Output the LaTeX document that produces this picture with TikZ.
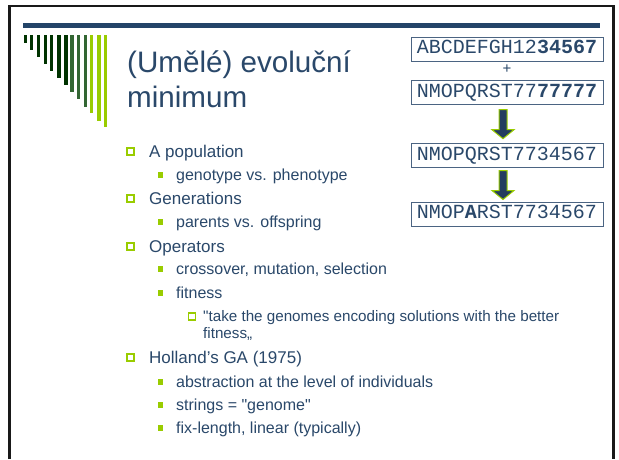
\documentclass[tikz,border=0pt]{standalone}
\usepackage{fontspec}
\setmainfont{Liberation Sans}
\newfontfamily\codefont{Liberation Mono}
\usetikzlibrary{positioning,calc}
\definecolor{txtblue}{RGB}{42,72,106}
\definecolor{barblue}{RGB}{35,68,104}
\definecolor{dkgreen}{RGB}{0,51,0}
\definecolor{mdgreen}{RGB}{51,102,51}
\definecolor{limegreen}{RGB}{153,204,0}
\definecolor{boxline}{RGB}{75,100,130}
\definecolor{arrowblue}{RGB}{35,60,95}
\tikzset{
    lvA/.style={anchor=base west, inner sep=0, text=txtblue, font=\fontsize{17}{20}\selectfont},
    lvB/.style={anchor=base west, inner sep=0, text=txtblue, font=\fontsize{16}{19}\selectfont},
    lvC/.style={anchor=base west, inner sep=0, text=txtblue, font=\fontsize{15.2}{17}\selectfont},
    bulA/.style={draw=limegreen, line width=1.8pt, minimum size=7.5pt, inner sep=0, xshift=-18.5pt, yshift=5.5pt},
    bulB/.style={fill=limegreen, minimum size=5.5pt, inner sep=0, xshift=-15.5pt, yshift=5pt},
    bulC/.style={draw=limegreen, line width=1.8pt, minimum size=7pt, inner sep=0, xshift=-11pt, yshift=4.5pt},
    genebox/.style={draw=boxline, line width=0.8pt, fill=white, minimum width=192pt, minimum height=24pt,
        inner sep=0, text height=12pt, text depth=3pt, text=txtblue, font=\codefont\fontsize{20}{20}\selectfont},
    fatarrow/.style={fill=arrowblue, draw=limegreen, line width=1pt, line join=miter}
}
\begin{document}
\begin{tikzpicture}[x=1pt,y=-1pt]
    \useasboundingbox[fill=white] (0,0) rectangle (619,459);
    \draw[line width=2.5pt, black!90] (9.5,459) -- (9.5,6) -- (613.5,6) -- (613.5,459);
    \fill[barblue] (23,22.5) rectangle (600,27.8);
    \foreach \x/\w/\b/\c in {24/2.8/43/dkgreen, 30/2.8/50/dkgreen, 37/2.8/57/dkgreen, 44/2.6/64/dkgreen,
        50/2.8/71/dkgreen, 57/3.7/78/dkgreen, 64/3.7/85/dkgreen, 70/3.7/92/mdgreen, 77/3.3/99/mdgreen,
        84/3/107/mdgreen, 90/3/113/limegreen, 97/3.7/121/limegreen, 104/3/127/limegreen}
      \fill[\c] (\x,35) rectangle (\x+\w,\b);
    \node[anchor=base west, inner sep=0, text=txtblue, font=\fontsize{29.6}{34}\selectfont] (t1) at (127,72) {(Umělé) evoluční};
    \node[anchor=base west, inner sep=0, text=txtblue, font=\fontsize{29.6}{34}\selectfont] (t2) at (127,107) {minimum};
    \node[genebox] (b1) at (507,49) {ABCDEFGH12\textbf{34567}};
    \node[genebox, below=19pt of b1] (b2) {NMOPQRST77\textbf{77777}};
    \node[genebox, below=38pt of b2] (b3) {NMOPQRST7734567};
    \node[genebox, below=34pt of b3] (b4) {NMOP\textbf{A}RST7734567};
    \node[inner sep=0, text=txtblue, font=\fontsize{15}{15}\selectfont, yshift=2pt] (plus) at ($(b1.south)!0.5!(b2.north)$) {+};
    \foreach \a/\b in {b2/b3, b3/b4}
      \draw[fatarrow] ($(\a.south)!0.5!(\b.north)+(-8,-14.5)$) -- ++(8,0) -- ++(0,20) -- ++(7,0)
        -- ++(-11,9) -- ++(-11,-9) -- ++(7,0) -- cycle;
    \node[lvA] (i1) at (149,157) {A population};
    \node[lvB] (i2) at (176,180) {genotype vs. phenotype};
    \node[lvA] (i3) at (149,204) {Generations};
    \node[lvB] (i4) at (176,227) {parents vs. offspring};
    \node[lvA] (i5) at (149,252) {Operators};
    \node[lvB] (i6) at (176,274) {crossover, mutation, selection};
    \node[lvB] (i7) at (176,298) {fitness};
    \node[lvC] (i8) at (203,321) {\textquotedbl take the genomes encoding solutions with the better};
    \node[lvC] (i8b) at (203,338) {fitness„};
    \node[lvA] (i9) at (149,363) {Holland’s GA (1975)};
    \node[lvB] (i10) at (176,387) {abstraction at the level of individuals};
    \node[lvB] (i11) at (176,410) {strings = \textquotedbl genome\textquotedbl};
    \node[lvB] (i12) at (176,433) {fix-length, linear (typically)};
    \foreach \n in {i1,i3,i5,i9}
      \node[bulA] (q\n) at (\n.base west) {};
    \foreach \n in {i2,i4,i6,i7,i10,i11,i12}
      \node[bulB] (q\n) at (\n.base west) {};
    \node[bulC] (qi8) at (i8.base west) {};
\end{tikzpicture}
\end{document}
